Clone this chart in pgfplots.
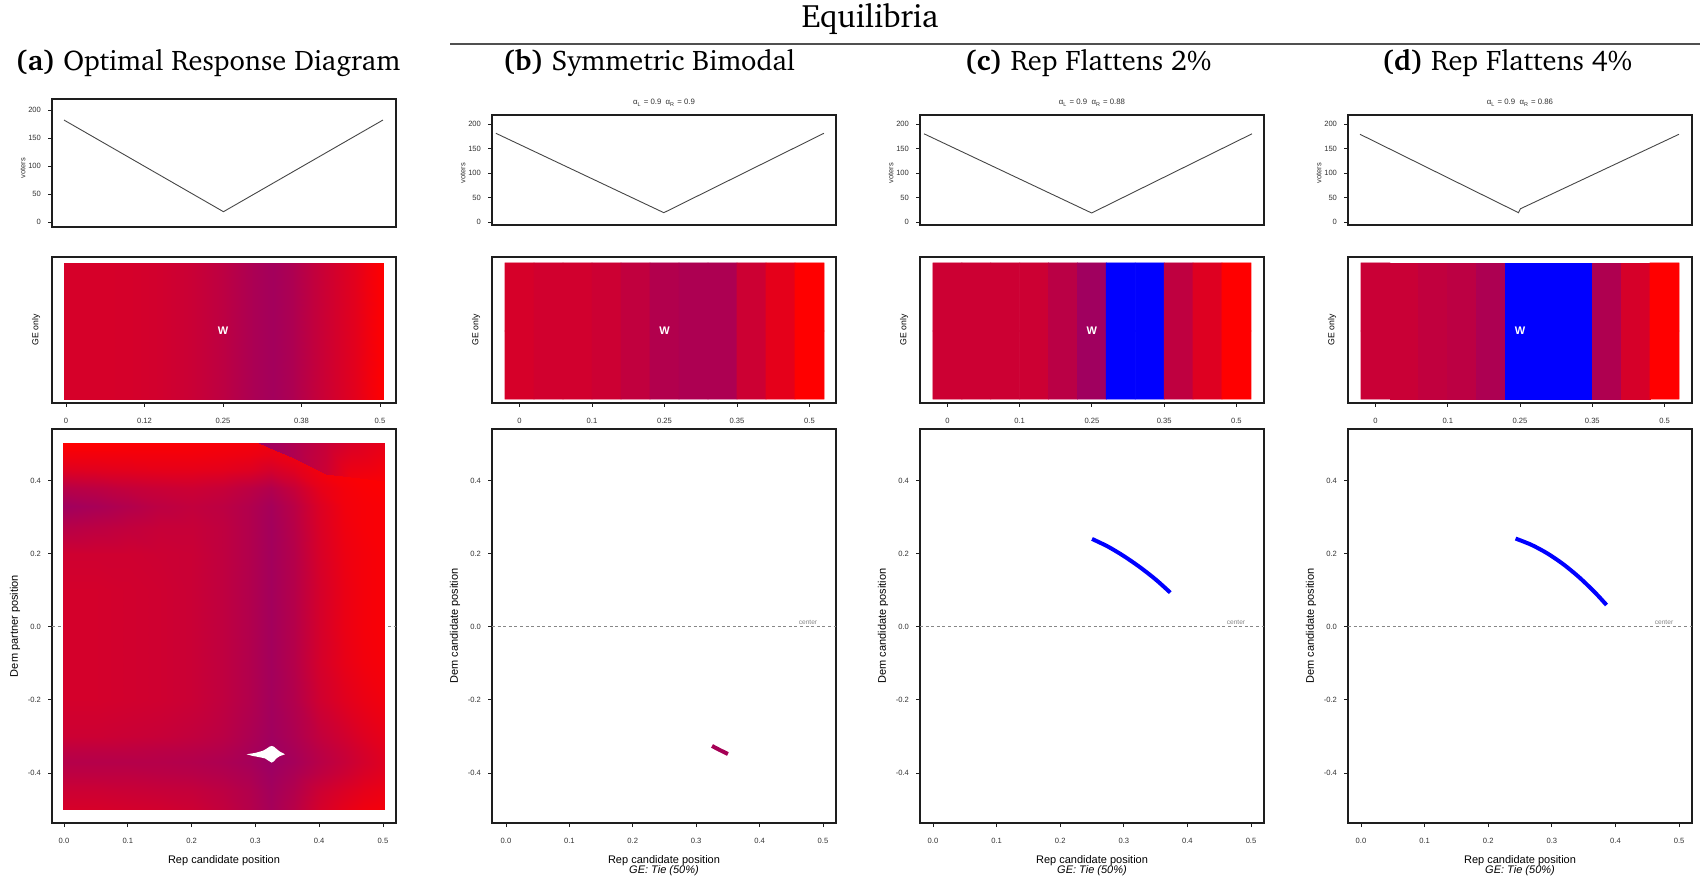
\documentclass[border=0pt]{standalone}
\usepackage[T1]{fontenc}
\usepackage{fontspec}
\setmainfont{Liberation Sans}
\usepackage{pgfplots}
\pgfplotsset{compat=1.18}
\newcommand{\fs}[1]{\fontsize{#1}{#1}\selectfont}
\newcommand{\chfont}[1]{\fontencoding{T1}\fontfamily{bch}\fontsize{#1}{#1}\selectfont}
\definecolor{boxc}{RGB}{30,30,30}
\definecolor{tickc}{RGB}{50,50,50}
\definecolor{linec}{RGB}{70,70,70}
\definecolor{eqp}{RGB}{165,0,85}
\definecolor{ctr}{RGB}{135,135,135}
\definecolor{rulec}{RGB}{80,80,80}
\pgfplotsset{
  rbase/.style={scale only axis, width=172pt, anchor=south west,
    axis line style={boxc, line width=0.6pt},
    tick align=outside, major tick length=2pt, tick style={boxc, line width=0.45pt},
    tick label style={font=\fs{3.8}, text=tickc},
    xticklabel style={yshift=-2.2pt},
    colormap={rb}{rgb255=(255,0,0) rgb255=(0,0,255)},
    point meta min=0, point meta max=1},
  rtop/.style={rbase, height=55pt, xtick=\empty, ytick={0,50,100,150,200},
    yticklabels={0,50,100,150,200}, ytick pos=left, ymin=-6.1, ymax=218.4},
  rmid/.style={rbase, height=73pt, ytick=\empty, xtick pos=left, ymin=-0.029, ymax=1.044,
    xtick={0,2.5,5,7.5,10}, xticklabels={0,0.1,0.25,0.35,0.5}},
  rbot/.style={rbase, height=197pt, xtick={0,0.1,0.2,0.3,0.4,0.5},
    xticklabels={0.0,0.1,0.2,0.3,0.4,0.5}, ytick={-0.4,-0.2,0,0.2,0.4},
    yticklabels={-0.4,-0.2,0.0,0.2,0.4}, xtick pos=left, ytick pos=left,
    ymin=-0.537, ymax=0.542},
  cline/.style={ctr, line width=0.5pt, dash pattern=on 1.5pt off 1.3pt},
}
\begin{document}
\begin{tikzpicture}
\useasboundingbox (0pt,0pt) rectangle (850pt,438.5pt);

% ---------------- titles
\node[anchor=base] at (104pt,403pt) {\chfont{14.2}\textbf{(a)} Optimal Response Diagram};
\node[anchor=base] at (324.5pt,403pt) {\chfont{14.2}\textbf{(b)} Symmetric Bimodal};
\node[anchor=base] at (544pt,403pt) {\chfont{14.2}\textbf{(c)} Rep Flattens 2\%};
\node[anchor=base] at (753.5pt,403pt) {\chfont{14.2}\textbf{(d)} Rep Flattens 4\%};
\node[anchor=base] at (435pt,424.5pt) {\chfont{16.2}Equilibria};
\draw[rulec, line width=0.8pt] (225pt,416.5pt) -- (850pt,416.5pt);

% alpha titles
\node[text=tickc, font=\fs{3.9}] at (332pt,387pt) {α\textsubscript{L} = 0.9\ \ α\textsubscript{R} = 0.9};
\node[text=tickc, font=\fs{3.9}] at (546pt,387pt) {α\textsubscript{L} = 0.9\ \ α\textsubscript{R} = 0.88};
\node[text=tickc, font=\fs{3.9}] at (760pt,387pt) {α\textsubscript{L} = 0.9\ \ α\textsubscript{R} = 0.86};

% ================= (a)
\begin{axis}[rtop, at={(26pt,325pt)}, height=64pt, xmin=-0.0376, xmax=1.041, ymin=-8.9, ymax=219.6]
\addplot[linec, line width=0.45pt] coordinates {(0,182) (0.5,18.4) (1,182)};
\end{axis}
\begin{axis}[rmid, at={(26pt,237pt)}, xmin=-0.0223, xmax=0.5255,
  xtick={0,0.125,0.25,0.375,0.5}, xticklabels={0,0.12,0.25,0.38,0.5}]
\addplot[surf, shader=interp, mesh/rows=2, mesh/cols=14, point meta=explicit] coordinates {
(-0.003,0)[0.16] (0.05,0)[0.16] (0.1,0)[0.165] (0.15,0)[0.18] (0.2,0)[0.21] (0.25,0)[0.26] (0.3,0)[0.33]
(0.33,0)[0.36] (0.36,0)[0.32] (0.4,0)[0.23] (0.43,0)[0.17] (0.46,0)[0.11] (0.48,0)[0.06] (0.505,0)[0.0]
(-0.003,1)[0.16] (0.05,1)[0.16] (0.1,1)[0.165] (0.15,1)[0.18] (0.2,1)[0.21] (0.25,1)[0.26] (0.3,1)[0.33]
(0.33,1)[0.36] (0.36,1)[0.32] (0.4,1)[0.23] (0.43,1)[0.17] (0.46,1)[0.11] (0.48,1)[0.06] (0.505,1)[0.0]
};
\node[text=white, font=\fs{5.5}\bfseries] at (axis cs:0.25,0.5) {W};
\end{axis}
\begin{axis}[rbot, at={(26pt,27pt)}, xmin=-0.0188, xmax=0.5204]
\addplot[cline] coordinates {(-0.0188,0) (0.5204,0)};
\addplot[surf, shader=interp, mesh/rows=17, mesh/cols=13, point meta=explicit] coordinates {
(-0.001,-0.5)[0.16] (0.05,-0.5)[0.16] (0.1,-0.5)[0.17] (0.15,-0.5)[0.18] (0.2,-0.5)[0.20] (0.25,-0.5)[0.24] (0.29,-0.5)[0.29] (0.325,-0.5)[0.35] (0.36,-0.5)[0.28] (0.4,-0.5)[0.17] (0.44,-0.5)[0.10] (0.47,-0.5)[0.06] (0.503,-0.5)[0.04]
(-0.001,-0.45)[0.20] (0.05,-0.45)[0.20] (0.1,-0.45)[0.21] (0.15,-0.45)[0.22] (0.2,-0.45)[0.23] (0.25,-0.45)[0.26] (0.29,-0.45)[0.30] (0.325,-0.45)[0.36] (0.36,-0.45)[0.30] (0.4,-0.45)[0.20] (0.44,-0.45)[0.14] (0.47,-0.45)[0.10] (0.503,-0.45)[0.07]
(-0.001,-0.4)[0.26] (0.05,-0.4)[0.26] (0.1,-0.4)[0.26] (0.15,-0.4)[0.27] (0.2,-0.4)[0.28] (0.25,-0.4)[0.30] (0.29,-0.4)[0.33] (0.325,-0.4)[0.38] (0.36,-0.4)[0.33] (0.4,-0.4)[0.26] (0.44,-0.4)[0.20] (0.47,-0.4)[0.15] (0.503,-0.4)[0.11]
(-0.001,-0.37)[0.29] (0.05,-0.37)[0.29] (0.1,-0.37)[0.29] (0.15,-0.37)[0.29] (0.2,-0.37)[0.30] (0.25,-0.37)[0.32] (0.29,-0.37)[0.35] (0.325,-0.37)[0.39] (0.36,-0.37)[0.35] (0.4,-0.37)[0.28] (0.44,-0.37)[0.22] (0.47,-0.37)[0.17] (0.503,-0.37)[0.12]
(-0.001,-0.34)[0.26] (0.05,-0.34)[0.26] (0.1,-0.34)[0.26] (0.15,-0.34)[0.27] (0.2,-0.34)[0.28] (0.25,-0.34)[0.30] (0.29,-0.34)[0.34] (0.325,-0.34)[0.38] (0.36,-0.34)[0.34] (0.4,-0.34)[0.27] (0.44,-0.34)[0.21] (0.47,-0.34)[0.16] (0.503,-0.34)[0.11]
(-0.001,-0.3)[0.20] (0.05,-0.3)[0.20] (0.1,-0.3)[0.21] (0.15,-0.3)[0.22] (0.2,-0.3)[0.24] (0.25,-0.3)[0.27] (0.29,-0.3)[0.32] (0.325,-0.3)[0.37] (0.36,-0.3)[0.32] (0.4,-0.3)[0.24] (0.44,-0.3)[0.18] (0.47,-0.3)[0.13] (0.503,-0.3)[0.09]
(-0.001,-0.2)[0.17] (0.05,-0.2)[0.17] (0.1,-0.2)[0.18] (0.15,-0.2)[0.19] (0.2,-0.2)[0.21] (0.25,-0.2)[0.25] (0.29,-0.2)[0.30] (0.325,-0.2)[0.36] (0.36,-0.2)[0.30] (0.4,-0.2)[0.19] (0.44,-0.2)[0.12] (0.47,-0.2)[0.08] (0.503,-0.2)[0.05]
(-0.001,-0.1)[0.17] (0.05,-0.1)[0.17] (0.1,-0.1)[0.18] (0.15,-0.1)[0.19] (0.2,-0.1)[0.21] (0.25,-0.1)[0.25] (0.29,-0.1)[0.30] (0.325,-0.1)[0.36] (0.36,-0.1)[0.29] (0.4,-0.1)[0.17] (0.44,-0.1)[0.09] (0.47,-0.1)[0.05] (0.503,-0.1)[0.03]
(-0.001,0)[0.17] (0.05,0)[0.17] (0.1,0)[0.18] (0.15,0)[0.19] (0.2,0)[0.21] (0.25,0)[0.25] (0.29,0)[0.30] (0.325,0)[0.36] (0.36,0)[0.29] (0.4,0)[0.17] (0.44,0)[0.08] (0.47,0)[0.04] (0.503,0)[0.02]
(-0.001,0.1)[0.17] (0.05,0.1)[0.17] (0.1,0.1)[0.18] (0.15,0.1)[0.19] (0.2,0.1)[0.21] (0.25,0.1)[0.25] (0.29,0.1)[0.30] (0.325,0.1)[0.36] (0.36,0.1)[0.29] (0.4,0.1)[0.17] (0.44,0.1)[0.08] (0.47,0.1)[0.04] (0.503,0.1)[0.02]
(-0.001,0.2)[0.19] (0.05,0.2)[0.19] (0.1,0.2)[0.19] (0.15,0.2)[0.20] (0.2,0.2)[0.21] (0.25,0.2)[0.25] (0.29,0.2)[0.30] (0.325,0.2)[0.36] (0.36,0.2)[0.29] (0.4,0.2)[0.16] (0.44,0.2)[0.07] (0.47,0.2)[0.04] (0.503,0.2)[0.02]
(-0.001,0.27)[0.28] (0.05,0.27)[0.26] (0.1,0.27)[0.24] (0.15,0.27)[0.22] (0.2,0.27)[0.22] (0.25,0.27)[0.25] (0.29,0.27)[0.30] (0.325,0.27)[0.36] (0.36,0.27)[0.28] (0.4,0.27)[0.15] (0.44,0.27)[0.06] (0.47,0.27)[0.03] (0.503,0.27)[0.02]
(-0.001,0.33)[0.37] (0.05,0.33)[0.34] (0.1,0.33)[0.30] (0.15,0.33)[0.26] (0.2,0.33)[0.24] (0.25,0.33)[0.26] (0.29,0.33)[0.30] (0.325,0.33)[0.35] (0.36,0.33)[0.27] (0.4,0.33)[0.14] (0.44,0.33)[0.05] (0.47,0.33)[0.03] (0.503,0.33)[0.02]
(-0.001,0.38)[0.28] (0.05,0.38)[0.26] (0.1,0.38)[0.23] (0.15,0.38)[0.21] (0.2,0.38)[0.20] (0.25,0.38)[0.22] (0.29,0.38)[0.26] (0.325,0.38)[0.30] (0.36,0.38)[0.22] (0.4,0.38)[0.10] (0.44,0.38)[0.04] (0.47,0.38)[0.02] (0.503,0.38)[0.01]
(-0.001,0.43)[0.13] (0.05,0.43)[0.12] (0.1,0.43)[0.11] (0.15,0.43)[0.10] (0.2,0.43)[0.10] (0.25,0.43)[0.11] (0.29,0.43)[0.13] (0.325,0.43)[0.17] (0.36,0.43)[0.12] (0.4,0.43)[0.05] (0.44,0.43)[0.02] (0.47,0.43)[0.01] (0.503,0.43)[0.01]
(-0.001,0.47)[0.05] (0.05,0.47)[0.05] (0.1,0.47)[0.05] (0.15,0.47)[0.05] (0.2,0.47)[0.05] (0.25,0.47)[0.06] (0.29,0.47)[0.07] (0.325,0.47)[0.09] (0.36,0.47)[0.06] (0.4,0.47)[0.03] (0.44,0.47)[0.01] (0.47,0.47)[0.01] (0.503,0.47)[0.01]
(-0.001,0.504)[0.0] (0.05,0.504)[0.0] (0.1,0.504)[0.01] (0.15,0.504)[0.01] (0.2,0.504)[0.02] (0.25,0.504)[0.03] (0.29,0.504)[0.04] (0.325,0.504)[0.05] (0.36,0.504)[0.03] (0.4,0.504)[0.02] (0.44,0.504)[0.01] (0.47,0.504)[0.0] (0.503,0.504)[0.0]
};
\addplot[surf, shader=interp, mesh/rows=2, mesh/cols=6, point meta=explicit] coordinates {
(0.305,0.504)[0.38] (0.33,0.485)[0.36] (0.36,0.462)[0.31] (0.41,0.42)[0.20] (0.45,0.41)[0.06] (0.503,0.40)[0.02]
(0.305,0.504)[0.38] (0.33,0.504)[0.36] (0.36,0.504)[0.31] (0.41,0.504)[0.22] (0.45,0.504)[0.15] (0.503,0.504)[0.09]
};
\addplot[fill=white, draw=none] coordinates {
(0.2863,-0.3488) (0.30,-0.345) (0.312,-0.339) (0.318,-0.333) (0.322,-0.328) (0.3255,-0.326)
(0.329,-0.328) (0.333,-0.334) (0.338,-0.341) (0.3464,-0.3488) (0.338,-0.354) (0.333,-0.36)
(0.329,-0.368) (0.3255,-0.3717) (0.322,-0.368) (0.315,-0.36) (0.307,-0.357) (0.295,-0.353)
};
\end{axis}

% ================= (b)
\begin{axis}[rtop, at={(246pt,326pt)}, xmin=-0.012, xmax=1.037]
\addplot[linec, line width=0.45pt] coordinates {(0,181) (0.512,19) (1,181)};
\end{axis}
\begin{axis}[rmid, at={(246pt,237pt)}, xmin=-0.948, xmax=10.914]
\addplot[matrix plot*, mesh/rows=2, mesh/cols=11, point meta=explicit] coordinates {
(0,0.25)[0.16] (1,0.25)[0.18] (2,0.25)[0.18] (3,0.25)[0.20] (4,0.25)[0.24] (5,0.25)[0.30] (6,0.25)[0.32] (7,0.25)[0.32] (8,0.25)[0.20] (9,0.25)[0.10] (10,0.25)[0.0]
(0,0.75)[0.16] (1,0.75)[0.18] (2,0.75)[0.18] (3,0.75)[0.20] (4,0.75)[0.24] (5,0.75)[0.30] (6,0.75)[0.32] (7,0.75)[0.32] (8,0.75)[0.20] (9,0.75)[0.10] (10,0.75)[0.0]
};
\node[text=white, font=\fs{5.5}\bfseries] at (axis cs:5,0.5) {W};
\end{axis}
\begin{axis}[rbot, at={(246pt,27pt)}, xmin=-0.022, xmax=0.5205]
\addplot[cline] coordinates {(-0.022,0) (0.5205,0)};
\addplot[eqp, line width=2pt] coordinates {(0.325,-0.326) (0.337,-0.337) (0.350,-0.348)};
\end{axis}

% ================= (c)
\begin{axis}[rtop, at={(460pt,326pt)}, xmin=-0.0122, xmax=1.0366]
\addplot[linec, line width=0.45pt] coordinates {(0,180) (0.511,18.4) (1,180)};
\end{axis}
\begin{axis}[rmid, at={(460pt,237pt)}, xmin=-0.948, xmax=10.955]
\addplot[matrix plot*, mesh/rows=2, mesh/cols=11, point meta=explicit] coordinates {
(0,0.25)[0.2] (1,0.25)[0.2] (2,0.25)[0.2] (3,0.25)[0.2] (4,0.25)[0.27] (5,0.25)[0.37] (6,0.25)[1] (7,0.25)[1] (8,0.25)[0.25] (9,0.25)[0.13] (10,0.25)[0.0]
(0,0.75)[0.2] (1,0.75)[0.2] (2,0.75)[0.2] (3,0.75)[0.2] (4,0.75)[0.27] (5,0.75)[0.37] (6,0.75)[1] (7,0.75)[1] (8,0.75)[0.25] (9,0.75)[0.13] (10,0.75)[0.0]
};
\node[text=white, font=\fs{5.5}\bfseries] at (axis cs:5,0.5) {W};
\end{axis}
\begin{axis}[rbot, at={(460pt,27pt)}, xmin=-0.0204, xmax=0.5204]
\addplot[cline] coordinates {(-0.0204,0) (0.5204,0)};
\addplot[blue, line width=2pt, smooth, tension=0.5] coordinates {(0.25,0.241) (0.275,0.22) (0.3,0.194) (0.325,0.164) (0.35,0.13) (0.373,0.094)};
\end{axis}

% ================= (d)
\begin{axis}[rtop, at={(674pt,326pt)}, xmin=-0.0376, xmax=1.041]
\addplot[linec, line width=0.45pt] coordinates {(0,179) (0.497,19) (0.503,27) (1,179)};
\end{axis}
\begin{axis}[rmid, at={(674pt,237pt)}, xmin=-0.952, xmax=10.95]
\addplot[matrix plot*, mesh/rows=2, mesh/cols=11, point meta=explicit] coordinates {
(0,0.25)[0.21] (1,0.25)[0.21] (2,0.25)[0.24] (3,0.25)[0.26] (4,0.25)[0.32] (5,0.25)[1] (6,0.25)[1] (7,0.25)[1] (8,0.25)[0.31] (9,0.25)[0.16] (10,0.25)[0.0]
(0,0.75)[0.21] (1,0.75)[0.21] (2,0.75)[0.24] (3,0.75)[0.26] (4,0.75)[0.32] (5,0.75)[1] (6,0.75)[1] (7,0.75)[1] (8,0.75)[0.31] (9,0.75)[0.16] (10,0.75)[0.0]
};
\node[text=white, font=\fs{5.5}\bfseries] at (axis cs:5,0.5) {W};
\end{axis}
\begin{axis}[rbot, at={(674pt,27pt)}, xmin=-0.0204, xmax=0.5204]
\addplot[cline] coordinates {(-0.0204,0) (0.5204,0)};
\addplot[blue, line width=2pt, smooth, tension=0.5] coordinates {(0.243,0.242) (0.268,0.2247) (0.293,0.2013) (0.318,0.1717) (0.343,0.1359) (0.368,0.094) (0.386,0.06)};
\end{axis}

% ---------------- labels
\foreach \xx/\yy in {11.5/354.5, 231.5/352, 445.5/352, 659.5/352}
  \node[rotate=90, text=tickc, font=\fs{3.75}] at (\xx pt,\yy pt) {voters};
\foreach \xx in {18, 238, 452, 666}
  \node[rotate=90, font=\fs{4.35}] at (\xx pt,273.5pt) {GE only};
\node[rotate=90, font=\fs{5.5}] at (7.5pt,125.5pt) {Dem partner position};
\foreach \xx in {227.5, 441.5, 655.5}
  \node[rotate=90, font=\fs{5.5}] at (\xx pt,125.5pt) {Dem candidate position};
\foreach \xx in {112, 332, 546, 760}
  \node[font=\fs{5.5}] at (\xx pt,8pt) {Rep candidate position};
\foreach \xx in {332, 546, 760}
  \node[font=\fs{5.5}\itshape] at (\xx pt,3pt) {GE: Tie (50\%)};
\foreach \xx in {404, 618, 832}
  \node[text=ctr, font=\fs{3.3}] at (\xx pt,127.5pt) {center};
\end{tikzpicture}
\end{document}
